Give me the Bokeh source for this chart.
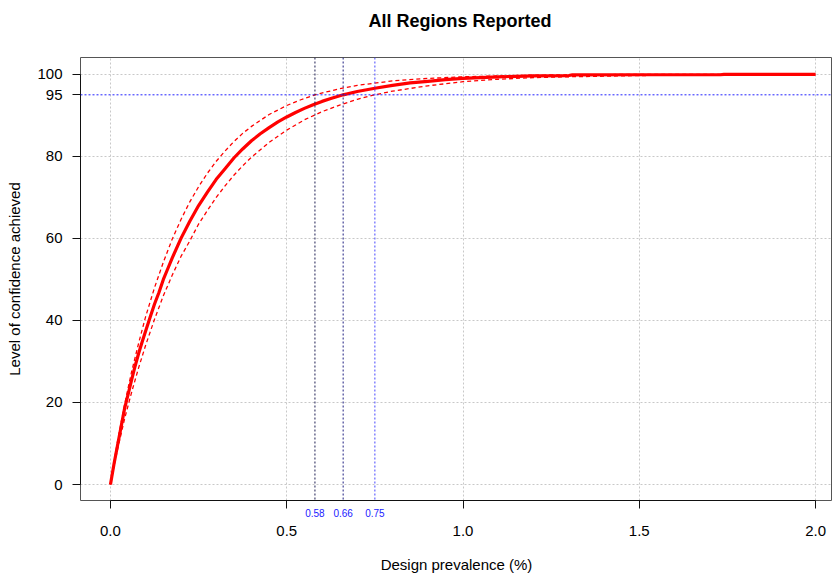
from bokeh.plotting import figure
from bokeh.models import Span, Range1d, FixedTicker, LinearAxis, Title
from bokeh.embed import file_html
from bokeh.resources import INLINE

# ---- data ----
prev_mid = [0.00, 0.01, 0.02, 0.03, 0.04, 0.05, 0.06, 0.07, 0.08, 0.09, 0.10, 0.1125,
            0.125, 0.1375, 0.15, 0.1625, 0.175, 0.20, 0.225, 0.25, 0.275, 0.30, 0.325,
            0.35, 0.375, 0.40, 0.425, 0.45, 0.475, 0.50, 0.525, 0.55, 0.575, 0.60,
            0.625, 0.66, 0.70, 0.75, 0.80, 0.85, 0.90, 0.95, 1.00, 1.10, 1.20, 1.30,
            1.31, 1.50, 1.73, 1.74, 2.00]
conf_mid = [0.0, 5.0, 9.5, 14.0, 18.5, 22.0, 25.5, 28.9, 32.0, 34.8, 37.5, 40.8,
            44.0, 46.8, 50.0, 52.6, 55.2, 60.0, 64.2, 68.0, 71.3, 74.4, 77.0,
            79.6, 81.8, 83.8, 85.5, 87.0, 88.4, 89.6, 90.7, 91.7, 92.6, 93.4,
            94.1, 95.0, 95.8, 96.6, 97.3, 97.9, 98.3, 98.7, 99.0, 99.4, 99.6, 99.7,
            99.85, 99.9, 99.9, 100.0, 100.0]

prev_hi = [0.00, 0.01, 0.02, 0.04, 0.06, 0.08, 0.10, 0.125, 0.15, 0.175, 0.20, 0.225,
           0.25, 0.275, 0.30, 0.325, 0.35, 0.375, 0.40, 0.45, 0.50, 0.54, 0.58, 0.65,
           0.70, 0.80, 0.90, 1.00, 1.20, 1.50, 2.00]
conf_hi = [0.0, 5.5, 10.5, 19.5, 27.5, 34.5, 41.0, 48.0, 54.2, 59.8, 64.6, 68.9,
           72.6, 75.9, 78.8, 81.3, 83.6, 85.6, 87.3, 90.2, 92.4, 93.8, 95.0, 96.5,
           97.3, 98.4, 99.0, 99.4, 99.8, 100.0, 100.0]

prev_lo = [0.00, 0.01, 0.02, 0.04, 0.06, 0.08, 0.10, 0.125, 0.15, 0.175, 0.20, 0.225,
           0.25, 0.275, 0.30, 0.325, 0.35, 0.375, 0.40, 0.45, 0.50, 0.55, 0.60, 0.65,
           0.70, 0.75, 0.80, 0.90, 1.00, 1.10, 1.20, 1.30, 1.50, 1.75, 2.00]
conf_lo = [0.0, 4.5, 8.5, 16.0, 22.5, 28.5, 34.0, 40.3, 46.0, 51.0, 55.6, 59.4,
           63.5, 66.8, 70.0, 72.8, 75.4, 77.7, 79.8, 83.4, 86.4, 88.9, 90.9, 92.5,
           93.9, 95.0, 95.9, 97.2, 98.2, 98.8, 99.2, 99.4, 99.7, 99.9, 100.0]

target_conf = 95
design_prev = [0.58, 0.66, 0.75]
design_labels = ["0.58", "0.66", "0.75"]
design_colors = ["#1c1c50", "#1c1c80", "#4646ff"]

x_ticks = [0.0, 0.5, 1.0, 1.5, 2.0]
x_tick_labels = ["0.0", "0.5", "1.0", "1.5", "2.0"]
y_ticks = [0, 20, 40, 60, 80, 95, 100]
y_grid = [0, 20, 40, 60, 80, 100]

FONT = "Liberation Sans"

p = figure(width=832, height=575, output_backend="svg", toolbar_location=None,
           x_range=Range1d(-0.085, 2.048), y_range=Range1d(-3.9, 104.1),
           min_border_left=80, min_border_right=0, min_border_top=57,
           min_border_bottom=74, background_fill_color="white",
           border_fill_color="white", x_axis_location=None)

p.title.text = "All Regions Reported"
p.title.text_font = FONT
p.title.text_font_size = "18px"
p.title.text_font_style = "bold"
p.title.text_color = "black"
p.title.align = "left"
p.title.offset = 288
p.title.standoff = 12

# empty spacer between title and frame
p.add_layout(Title(text=" ", text_font_size="10px", standoff=8), "above")

p.outline_line_color = "#555555"
p.outline_line_width = 1

# --- x axes: ticks (nearest frame), design-prevalence labels, main labels ---
ax_ticks = LinearAxis(ticker=FixedTicker(ticks=x_ticks), bounds=(x_ticks[0], x_ticks[-1]))
ax_ticks.major_label_overrides = {t: "" for t in x_ticks}
ax_ticks.major_label_text_font_size = "1px"
ax_ticks.major_label_standoff = 0
ax_ticks.axis_line_color = "#111111"
ax_ticks.major_tick_line_color = "#111111"
ax_ticks.major_tick_out = 8
ax_ticks.major_tick_in = 0
ax_ticks.minor_tick_line_color = None
p.add_layout(ax_ticks, "below")

ax_design = LinearAxis(ticker=FixedTicker(ticks=design_prev))
ax_design.major_label_overrides = {t: l for t, l in zip(design_prev, design_labels)}
ax_design.major_label_text_font = FONT
ax_design.major_label_text_font_size = "10px"
ax_design.major_label_text_color = "#1a1aff"
ax_design.major_label_standoff = 0
ax_design.axis_line_color = None
ax_design.major_tick_line_color = None
ax_design.minor_tick_line_color = None
ax_design.major_tick_out = 0
ax_design.major_tick_in = 0
p.add_layout(ax_design, "below")

ax_main = LinearAxis(ticker=FixedTicker(ticks=x_ticks))
ax_main.major_label_overrides = {t: l for t, l in zip(x_ticks, x_tick_labels)}
ax_main.major_label_text_font = FONT
ax_main.major_label_text_font_size = "15px"
ax_main.major_label_text_color = "black"
ax_main.major_label_standoff = 6
ax_main.axis_line_color = None
ax_main.major_tick_line_color = None
ax_main.minor_tick_line_color = None
ax_main.major_tick_out = 0
ax_main.major_tick_in = 0
ax_main.axis_label = "Design prevalence (%)"
ax_main.axis_label_text_font = FONT
ax_main.axis_label_text_font_size = "15px"
ax_main.axis_label_text_font_style = "normal"
ax_main.axis_label_text_color = "black"
ax_main.axis_label_standoff = 17
p.add_layout(ax_main, "below")

# --- y axis ---
p.yaxis.ticker = FixedTicker(ticks=y_ticks)
p.yaxis.bounds = (y_grid[0], y_grid[-1])
p.yaxis.axis_line_color = "#111111"
p.yaxis.major_tick_line_color = "#111111"
p.yaxis.major_tick_out = 8
p.yaxis.major_tick_in = 0
p.yaxis.minor_tick_line_color = None
p.yaxis.major_label_text_font = FONT
p.yaxis.major_label_text_font_size = "15px"
p.yaxis.major_label_text_color = "black"
p.yaxis.major_label_standoff = 10
p.yaxis.axis_label = "Level of confidence achieved"
p.yaxis.axis_label_text_font = FONT
p.yaxis.axis_label_text_font_size = "15px"
p.yaxis.axis_label_text_font_style = "normal"
p.yaxis.axis_label_text_color = "black"
p.yaxis.axis_label_standoff = 11

# grid
p.xgrid.ticker = FixedTicker(ticks=x_ticks)
p.ygrid.ticker = FixedTicker(ticks=y_grid)
for g in (p.xgrid, p.ygrid):
    g.grid_line_color = "#c8c8c8"
    g.grid_line_dash = "2 2"
    g.grid_line_width = 1

# reference lines
p.add_layout(Span(location=target_conf, dimension="width", line_color="#2020ff",
                  line_dash="2 2", line_width=1))
for v, c in zip(design_prev, design_colors):
    p.add_layout(Span(location=v, dimension="height", line_color=c,
                      line_dash="2 2", line_width=1))

# curves
p.line(prev_hi, conf_hi, line_color="red", line_width=1.3, line_dash="4 3")
p.line(prev_lo, conf_lo, line_color="red", line_width=1.3, line_dash="4 3")
p.line(prev_mid, conf_mid, line_color="red", line_width=3.2)

open("out.html", "w").write(file_html(p, INLINE))
